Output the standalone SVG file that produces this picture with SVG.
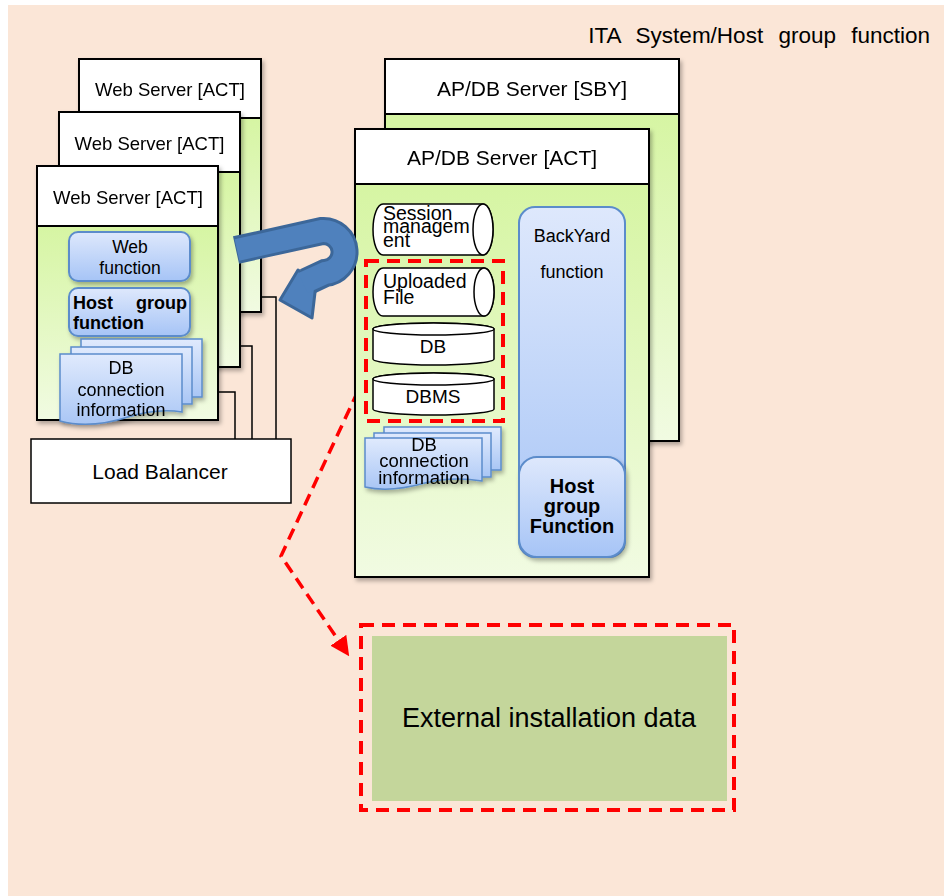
<svg xmlns="http://www.w3.org/2000/svg" width="944" height="896" viewBox="0 0 944 896">
<defs>
<linearGradient id="bodyG" x1="0" y1="0" x2="0" y2="1"><stop offset="0" stop-color="#D6F5A3"/><stop offset="1" stop-color="#F1FBE2"/></linearGradient>
<linearGradient id="blueG" x1="0" y1="0" x2="0" y2="1"><stop offset="0" stop-color="#DEE8FC"/><stop offset="1" stop-color="#A6C4F6"/></linearGradient>
<linearGradient id="docG" x1="0" y1="0" x2="0" y2="1"><stop offset="0" stop-color="#E0EAFD"/><stop offset="1" stop-color="#A9C6F5"/></linearGradient>
<filter id="sh" x="-10%" y="-10%" width="130%" height="130%"><feDropShadow dx="2" dy="3" stdDeviation="2" flood-color="#000" flood-opacity="0.3"/></filter>
<marker id="redArrow" viewBox="0 0 10 10" refX="8" refY="5" markerWidth="5.5" markerHeight="5.5" orient="auto" markerUnits="strokeWidth"><path d="M0,0 L10,5 L0,10 Z" fill="#FF0000"/></marker>
<style>
.t{font-family:"Liberation Sans",Arial,sans-serif;fill:#000;}
.hdr{fill:#fff;stroke:#000;stroke-width:2;}
.body{fill:url(#bodyG);stroke:#000;stroke-width:2;}
.blue{fill:url(#blueG);stroke:#5B8CCB;stroke-width:2;}
.doc{fill:url(#docG);stroke:#5B8CCB;stroke-width:1.5;}
.cyl{fill:#fff;stroke:#000;stroke-width:1.5;}
.wire{fill:none;stroke:#000;stroke-width:1.5;}
.reddash{fill:none;stroke:#FF0000;stroke-width:4;stroke-dasharray:13 8;}
</style>
</defs>
<rect x="8" y="5" width="936" height="891" fill="#FBE6D7"/>
<text class="t" x="930" y="43" font-size="22.5" text-anchor="end" word-spacing="9">ITA System/Host group function</text>

<g id="connectors">
<polyline class="wire" points="261,297 276,297 276,439"/>
<polyline class="wire" points="240,346 252,346 252,439"/>
<polyline class="wire" points="218,392 235,392 235,439"/>
<path d="M358,391 L281,556 L347,653" fill="none" stroke="#FF0000" stroke-width="3.5" stroke-dasharray="12 7" marker-end="url(#redArrow)"/>
</g>

<g id="web-server-3" filter="url(#sh)">
<rect class="body" x="79" y="118" width="182" height="194"/>
<rect class="hdr" x="79" y="59" width="182" height="59"/>
<text class="t" x="170" y="96" font-size="18.5" text-anchor="middle">Web Server [ACT]</text>
</g>
<g id="web-server-2" filter="url(#sh)">
<rect class="body" x="59" y="172" width="181" height="195"/>
<rect class="hdr" x="59" y="112" width="181" height="60"/>
<text class="t" x="149.5" y="150" font-size="18.5" text-anchor="middle">Web Server [ACT]</text>
</g>
<g id="web-server-1" filter="url(#sh)">
<rect class="body" x="37" y="226" width="181" height="194"/>
<rect class="hdr" x="37" y="166" width="181" height="60"/>
<text class="t" x="128" y="204" font-size="18.5" text-anchor="middle">Web Server [ACT]</text>
</g>

<g id="web-function">
<rect class="blue" x="69" y="232" width="121" height="49" rx="9" filter="url(#sh)"/>
<text class="t" x="130" y="253" font-size="17.5" text-anchor="middle">Web</text>
<text class="t" x="130" y="274" font-size="17.5" text-anchor="middle">function</text>
</g>
<g id="web-host-group">
<rect class="blue" x="69" y="288" width="121" height="48" rx="9" filter="url(#sh)"/>
<text class="t" x="73" y="309" font-size="18" font-weight="bold">Host</text>
<text class="t" x="187" y="309" font-size="18" font-weight="bold" text-anchor="end">group</text>
<text class="t" x="73" y="329" font-size="18" font-weight="bold">function</text>
</g>
<g id="web-db-conn" filter="url(#sh)">
<rect class="doc" x="81" y="339" width="121" height="58"/>
<rect class="doc" x="71" y="347" width="121" height="57"/>
<path class="doc" d="M60,354 H182 V412 C165,409 148,411 128,417 C100,426 78,426 60,421 Z"/>
<text class="t" x="121" y="374" font-size="18" text-anchor="middle">DB</text>
<text class="t" x="121" y="396" font-size="18" text-anchor="middle">connection</text>
<text class="t" x="121" y="416" font-size="18" text-anchor="middle">information</text>
</g>

<g id="load-balancer">
<rect x="31" y="439" width="260" height="64" fill="#fff" stroke="#000" stroke-width="1.5"/>
<text class="t" x="160" y="479" font-size="21" text-anchor="middle">Load Balancer</text>
</g>

<g id="apdb-sby" filter="url(#sh)">
<rect class="body" x="385" y="114" width="294" height="327"/>
<rect class="hdr" x="385" y="59" width="294" height="55"/>
<text class="t" x="532" y="96" font-size="21" text-anchor="middle">AP/DB Server [SBY]</text>
</g>
<g id="apdb-act" filter="url(#sh)">
<rect class="body" x="355" y="184" width="294" height="393"/>
<rect class="hdr" x="355" y="129" width="294" height="55"/>
<text class="t" x="502" y="165" font-size="21" text-anchor="middle">AP/DB Server [ACT]</text>
</g>

<g id="session-mgmt">
<path class="cyl" d="M383,204 H483 A10,25.5 0 0 1 483,255 H383 A10,25.5 0 0 1 383,204 Z"/>
<ellipse class="cyl" cx="483" cy="229.5" rx="10" ry="25.5"/>
<text class="t" x="383" y="220" font-size="19.5">Session</text>
<text class="t" x="383" y="233" font-size="19.5">managem</text>
<text class="t" x="383" y="247" font-size="19.5">ent</text>
</g>
<g id="uploaded-file">
<path class="cyl" d="M383,268 H484 A10,24 0 0 1 484,316 H383 A10,24 0 0 1 383,268 Z"/>
<ellipse class="cyl" cx="484" cy="292" rx="10" ry="24"/>
<text class="t" x="383" y="288" font-size="19.5">Uploaded</text>
<text class="t" x="383" y="304" font-size="19.5">File</text>
</g>
<g id="db">
<path class="cyl" d="M373,329 A60.5,6 0 0 1 494,329 V359 A60.5,6 0 0 1 373,359 Z"/>
<ellipse class="cyl" cx="433.5" cy="329" rx="60.5" ry="6"/>
<text class="t" x="433" y="353" font-size="19" text-anchor="middle">DB</text>
</g>
<g id="dbms">
<path class="cyl" d="M373,379 A60.5,6 0 0 1 494,379 V409 A60.5,6 0 0 1 373,409 Z"/>
<ellipse class="cyl" cx="433.5" cy="379" rx="60.5" ry="6"/>
<text class="t" x="433" y="403" font-size="19" text-anchor="middle">DBMS</text>
</g>
<rect id="data-group" class="reddash" x="366" y="261" width="137" height="160"/>

<g id="act-db-conn" filter="url(#sh)">
<rect class="doc" x="384" y="427" width="117" height="43"/>
<rect class="doc" x="374" y="433" width="117" height="44"/>
<path class="doc" d="M365,438 H482 V481 C462,478 445,478 425,483 C400,490 382,491 365,487 Z"/>
<text class="t" x="424" y="451" font-size="18.5" text-anchor="middle">DB</text>
<text class="t" x="424" y="467" font-size="18.5" text-anchor="middle">connection</text>
<text class="t" x="424" y="484" font-size="18.5" text-anchor="middle">information</text>
</g>

<g id="backyard">
<rect class="blue" x="519" y="207" width="106" height="350" rx="16"/>
<text class="t" x="572" y="242" font-size="18" text-anchor="middle">BackYard</text>
<text class="t" x="572" y="278" font-size="18" text-anchor="middle">function</text>
</g>
<g id="act-host-group">
<rect class="blue" x="519" y="457" width="106" height="100" rx="18" filter="url(#sh)"/>
<text class="t" x="572" y="493" font-size="20" font-weight="bold" text-anchor="middle">Host</text>
<text class="t" x="572" y="513" font-size="20" font-weight="bold" text-anchor="middle">group</text>
<text class="t" x="572" y="533" font-size="20" font-weight="bold" text-anchor="middle">Function</text>
</g>

<g id="uturn-arrow">
<path d="M236,250 L322,231 A21,21 0 0 1 325,273 L306,282" fill="none" stroke="#3C6799" stroke-width="28"/>
<polygon points="280,300 298,270 316,284 312,318" fill="#4F81BD" stroke="#3C6799" stroke-width="3" stroke-linejoin="round"/>
<path d="M237,250 L322,231 A21,21 0 0 1 325,273 L303,283" fill="none" stroke="#4F81BD" stroke-width="22"/>
</g>

<g id="external-data">
<rect class="reddash" x="361" y="625" width="373" height="185"/>
<rect x="372" y="636" width="355" height="165" fill="#C4D69B"/>
<text class="t" x="549" y="727" font-size="27" text-anchor="middle">External installation data</text>
</g>
</svg>
